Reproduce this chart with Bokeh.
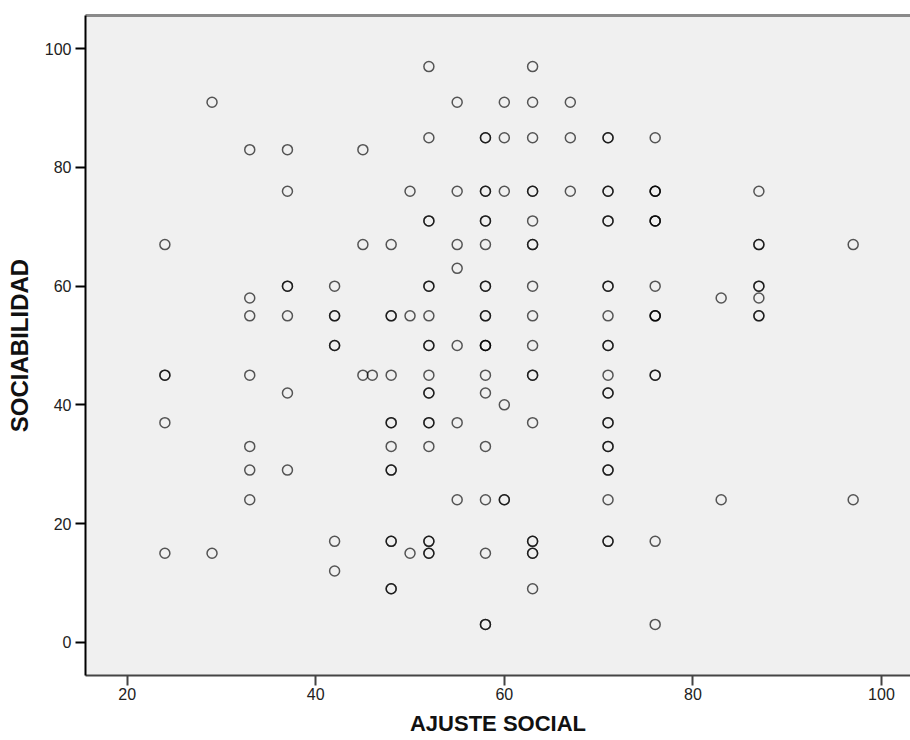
from bokeh.plotting import figure
from bokeh.models import Range1d, LinearAxis, FixedTicker, ColumnDataSource
from bokeh.embed import file_html
from bokeh.resources import INLINE

# AJUSTE SOCIAL (x) and SOCIABILIDAD (y), one entry per case (read row by row)
ajuste_social = [
    52, 63,
    29, 55, 60, 63, 67,
    52, 58, 58, 60, 63, 67, 71, 71, 76,
    33, 37, 45,
    37, 50, 55, 58, 58, 60, 63, 63, 67, 71, 71, 76, 76, 76, 87,
    52, 52, 58, 58, 63, 71, 71, 76, 76, 76,
    24, 45, 48, 55, 58, 63, 63, 87, 87, 97,
    55,
    37, 37, 42, 52, 52, 58, 58, 63, 71, 71, 76, 87, 87,
    33, 83, 87,
    33, 37, 42, 42, 48, 48, 50, 52, 58, 58, 63, 71, 76, 76, 76, 87, 87,
    42, 42, 52, 52, 55, 58, 58, 58, 63, 71, 71,
    24, 24, 33, 45, 46, 48, 52, 58, 63, 63, 71, 76, 76,
    37, 52, 52, 58, 71, 71,
    60,
    24, 48, 48, 52, 52, 55, 63, 71, 71,
    33, 48, 52, 58, 71, 71,
    33, 37, 48, 48, 71, 71,
    33, 55, 58, 60, 60, 71, 83, 97,
    42, 48, 48, 52, 52, 63, 63, 71, 71, 76,
    24, 29, 50, 52, 52, 58, 63, 63,
    42,
    48, 48, 63,
    58, 58, 76,
]

sociabilidad = [
    97, 97,
    91, 91, 91, 91, 91,
    85, 85, 85, 85, 85, 85, 85, 85, 85,
    83, 83, 83,
    76, 76, 76, 76, 76, 76, 76, 76, 76, 76, 76, 76, 76, 76, 76,
    71, 71, 71, 71, 71, 71, 71, 71, 71, 71,
    67, 67, 67, 67, 67, 67, 67, 67, 67, 67,
    63,
    60, 60, 60, 60, 60, 60, 60, 60, 60, 60, 60, 60, 60,
    58, 58, 58,
    55, 55, 55, 55, 55, 55, 55, 55, 55, 55, 55, 55, 55, 55, 55, 55, 55,
    50, 50, 50, 50, 50, 50, 50, 50, 50, 50, 50,
    45, 45, 45, 45, 45, 45, 45, 45, 45, 45, 45, 45, 45,
    42, 42, 42, 42, 42, 42,
    40,
    37, 37, 37, 37, 37, 37, 37, 37, 37,
    33, 33, 33, 33, 33, 33,
    29, 29, 29, 29, 29, 29,
    24, 24, 24, 24, 24, 24, 24, 24,
    17, 17, 17, 17, 17, 17, 17, 17, 17, 17,
    15, 15, 15, 15, 15, 15, 15, 15,
    12,
    9, 9, 9,
    3, 3, 3,
]

x_ticks = [20, 40, 60, 80, 100]
y_ticks = [0, 20, 40, 60, 80, 100]

assert len(ajuste_social) == len(sociabilidad)

FONT = "Liberation Sans"

p = figure(
    width=910, height=740,
    output_backend="svg", toolbar_location=None,
    x_range=Range1d(15.58, 103.08), y_range=Range1d(-5.61, 105.61),
    min_border_left=85, min_border_top=15, min_border_right=0, min_border_bottom=65,
    background_fill_color="#f0f0f0", border_fill_color="white",
    outline_line_color=None,
)
p.grid.visible = False

src = ColumnDataSource(dict(x=ajuste_social, y=sociabilidad))
p.scatter("x", "y", source=src, marker="circle", size=10,
          fill_color=None, line_color="black", line_alpha=0.65, line_width=1.5)

# x axis
xa = p.xaxis[0]
xa.ticker = FixedTicker(ticks=x_ticks)
xa.axis_label = "AJUSTE SOCIAL"
xa.axis_label_text_font = FONT
xa.axis_label_text_font_style = "bold"
xa.axis_label_text_font_size = "22px"
xa.axis_label_text_color = "#111111"
xa.axis_label_standoff = 8
xa.major_label_text_font = FONT
xa.major_label_text_font_size = "16px"
xa.major_label_text_color = "#222222"
xa.major_label_standoff = 2
xa.axis_line_color = "#444444"
xa.axis_line_width = 2
xa.major_tick_line_color = "#444444"
xa.major_tick_line_width = 2
xa.major_tick_out = 10
xa.major_tick_in = 0
xa.minor_tick_line_color = None

# y axis
ya = p.yaxis[0]
ya.ticker = FixedTicker(ticks=y_ticks)
ya.axis_label = "SOCIABILIDAD"
ya.axis_label_text_font = FONT
ya.axis_label_text_font_style = "bold"
ya.axis_label_text_font_size = "24px"
ya.axis_label_text_color = "#111111"
ya.axis_label_standoff = 9
ya.major_label_text_font = FONT
ya.major_label_text_font_size = "16px"
ya.major_label_text_color = "#222222"
ya.major_label_standoff = 4
ya.axis_line_color = "black"
ya.axis_line_width = 2
ya.major_tick_line_color = "black"
ya.major_tick_line_width = 2
ya.major_tick_out = 10
ya.major_tick_in = 0
ya.minor_tick_line_color = None

# top frame line
top = LinearAxis(ticker=FixedTicker(ticks=[]), axis_line_color="#8a8a8a", axis_line_width=3,
                 major_label_text_font_size="0px", major_tick_line_color=None,
                 minor_tick_line_color=None)
p.add_layout(top, "above")

open("out.html", "w").write(file_html(p, INLINE))
